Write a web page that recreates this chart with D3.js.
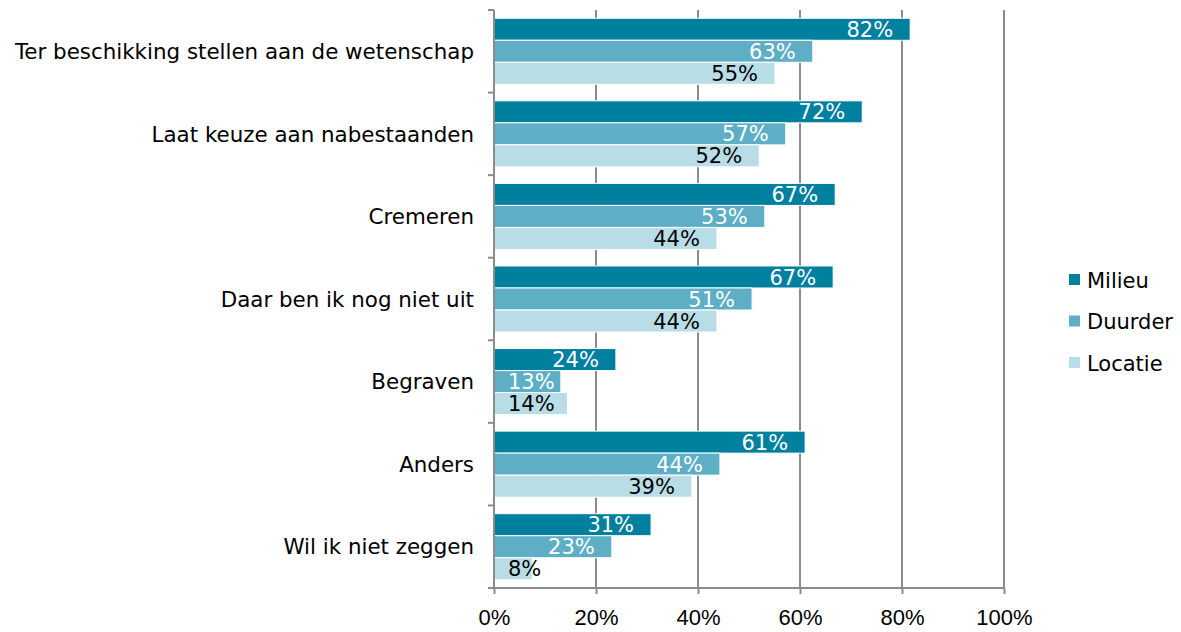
<!DOCTYPE html>
<html lang="nl">
<head>
<meta charset="UTF-8">
<title>Horizontale staafgrafiek</title>
<script src="https://d3js.org/d3.v7.min.js"></script>
<style>
    body { margin: 0; background: #fff; font-family: "DejaVu Sans", Verdana, sans-serif; }
    .grid line { stroke: #8c8c8c; stroke-width: 2px; }
    .axis path, .axis line { stroke: #8c8c8c; stroke-width: 2px; }
    .axis text { font-size: 21.4px; fill: #000; }
    .x-axis text { font-size: 22px; }
    .bar { stroke: #fff; stroke-width: 1px; }
    .bar-label { font-size: 21px; }
    .legend text { font-size: 21px; fill: #000; }
</style>
</head>
<body>
<div id="chart"></div>
<script>
    const categories = [
        "Ter beschikking stellen aan de wetenschap",
        "Laat keuze aan nabestaanden",
        "Cremeren",
        "Daar ben ik nog niet uit",
        "Begraven",
        "Anders",
        "Wil ik niet zeggen"
    ];
    const seriesNames = ["Milieu", "Duurder", "Locatie"];
    const milieu  = [81.6, 72.2, 66.9, 66.5, 23.9, 61.0, 30.8];
    const duurder = [62.5, 57.2, 53.1, 50.6, 13.1, 44.3, 23.1];
    const locatie = [55.1, 52.0, 43.7, 43.7, 14.4, 38.8, 7.5];
    const xTicks = [0, 20, 40, 60, 80, 100];
    const colors = ["#00809f", "#5eafc6", "#b9dde6"];
    const labelColors = ["#fff", "#fff", "#000"];

    const seriesValues = [milieu, duurder, locatie];
    const rows = categories.map((c, i) => ({
        name: c,
        values: seriesNames.map((s, j) => ({ series: s, idx: j, value: seriesValues[j][i] }))
    }));

    const width = 1181, height = 632;
    const margin = { top: 10, right: 177, bottom: 44, left: 494 };
    const innerW = width - margin.left - margin.right;
    const innerH = height - margin.top - margin.bottom;

    const svg = d3.select("#chart").append("svg")
        .attr("width", width)
        .attr("height", height);
    const g = svg.append("g").attr("transform", `translate(${margin.left},${margin.top})`);

    const x = d3.scaleLinear().domain([0, 100]).range([0, innerW]);
    const y = d3.scaleBand().domain(categories).range([0, innerH]).paddingInner(0.2).paddingOuter(0.1);
    const y1 = d3.scaleBand().domain(seriesNames).range([0, y.bandwidth()]);

    // gridlines
    g.append("g").attr("class", "grid")
        .selectAll("line")
        .data(xTicks.slice(1))
        .join("line")
        .attr("x1", d => x(d)).attr("x2", d => x(d))
        .attr("y1", 0).attr("y2", innerH);

    // bars
    const groups = g.selectAll(".row")
        .data(rows)
        .join("g")
        .attr("class", "row")
        .attr("transform", d => `translate(0,${y(d.name)})`);

    groups.selectAll("rect")
        .data(d => d.values)
        .join("rect")
        .attr("class", "bar")
        .attr("x", 0)
        .attr("y", d => y1(d.series))
        .attr("width", d => x(d.value))
        .attr("height", y1.bandwidth())
        .attr("fill", d => colors[d.idx]);

    groups.selectAll("text")
        .data(d => d.values)
        .join("text")
        .attr("class", "bar-label")
        .attr("y", d => y1(d.series) + y1.bandwidth() / 2)
        .attr("dy", "0.36em")
        .attr("fill", d => labelColors[d.idx])
        .text(d => Math.round(d.value) + "%")
        .each(function(d) {
            const w = this.getComputedTextLength();
            const endX = Math.max(x(d.value) - 17, 14 + w);
            d3.select(this).attr("x", endX).attr("text-anchor", "end");
        });

    // y axis: ticks at band boundaries
    const bounds = d3.range(categories.length + 1).map(i => i * innerH / categories.length);
    const yAxis = g.append("g").attr("class", "axis");
    yAxis.append("line").attr("x1", 0).attr("x2", 0).attr("y1", 0).attr("y2", innerH);
    yAxis.selectAll(".tk").data(bounds).join("line")
        .attr("x1", -6).attr("x2", 0)
        .attr("y1", d => d).attr("y2", d => d);
    yAxis.selectAll("text").data(categories).join("text")
        .attr("x", -20)
        .attr("y", d => y(d) + y.bandwidth() / 2)
        .attr("dy", "0.36em")
        .attr("text-anchor", "end")
        .text(d => d);

    // x axis
    const xAxis = g.append("g").attr("class", "axis x-axis")
        .attr("transform", `translate(0,${innerH})`)
        .call(d3.axisBottom(x).tickValues(xTicks).tickFormat(d => d + "%").tickSize(6).tickPadding(15).tickSizeOuter(0));
    xAxis.select(".domain").attr("d", `M0,0H${innerW}`);
    xAxis.selectAll("text").attr("font-family", null).attr("font-size", null);

    // legend
    const legend = svg.append("g").attr("class", "legend")
        .attr("transform", "translate(1069,280)");
    const li = legend.selectAll("g").data(seriesNames).join("g")
        .attr("transform", (d, i) => `translate(0,${i * 41.5})`);
    li.append("rect").attr("x", 0).attr("y", -6).attr("width", 11).attr("height", 11)
        .attr("fill", (d, i) => colors[i]);
    li.append("text").attr("x", 18).attr("y", 0).attr("dy", "0.36em").text(d => d);
</script>
</body>
</html>
